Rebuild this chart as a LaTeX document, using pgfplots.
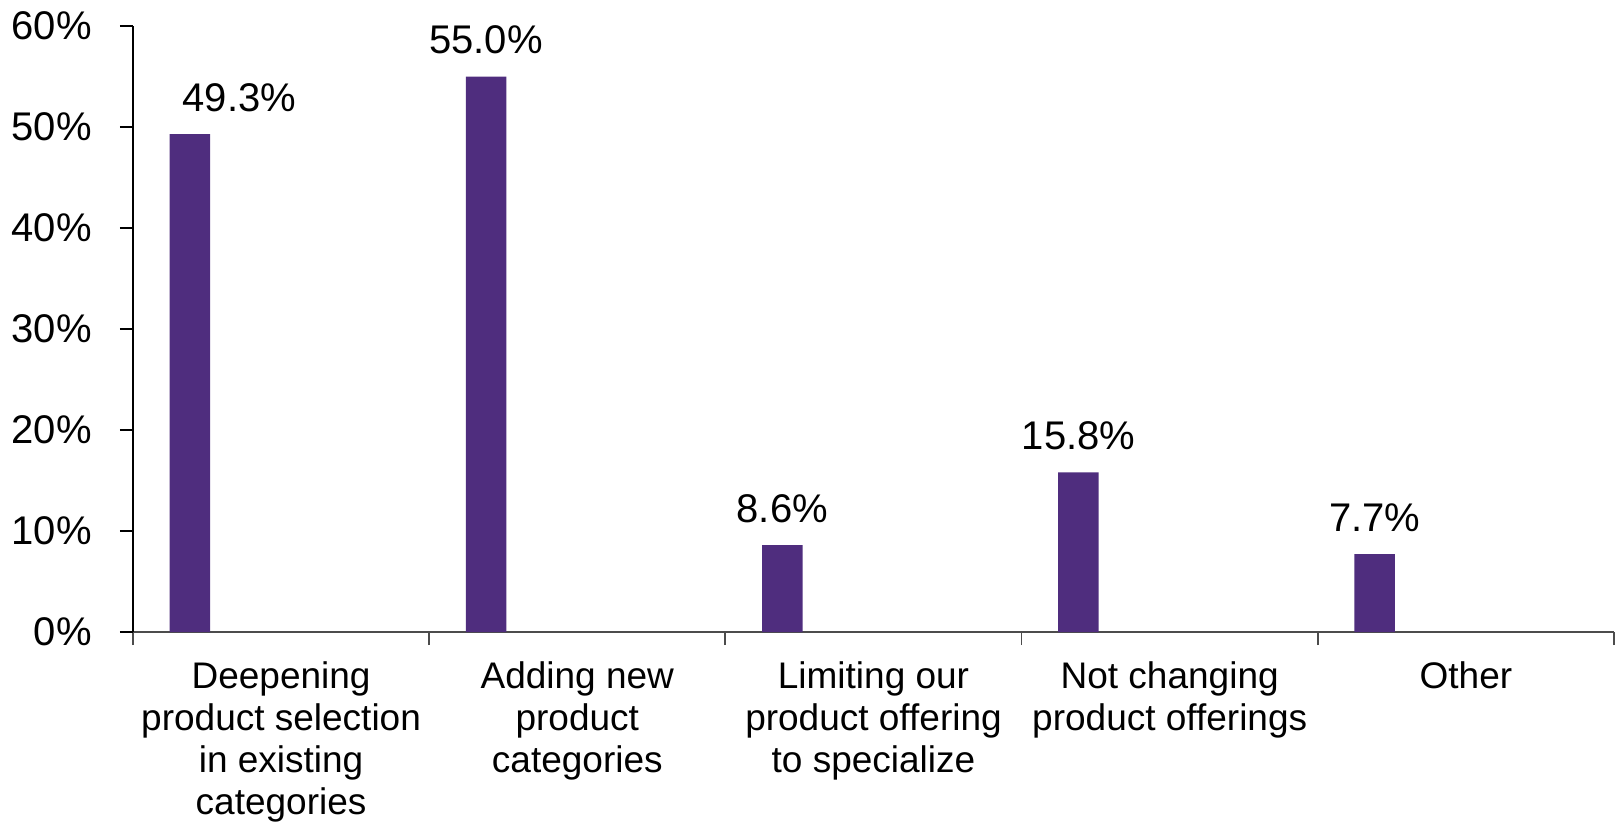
\documentclass[border=0pt]{standalone}
\usepackage{pgfplots}
\pgfplotsset{compat=1.18}
\usepackage{pgfplotstable}
\usepackage{fontspec}
\setmainfont{Liberation Sans}
\definecolor{barpurple}{RGB}{79,45,126}

% x = bar position inside its category slot, dx = extra label shift (pt)
\pgfplotstableread{
x     y    dx
0.192 49.3 24.75
1.192 55.0 0
2.192 8.6  0
3.192 15.8 0
4.192 7.7  0
}\shares

\begin{document}
\begin{tikzpicture}
\path[use as bounding box] (-66.5pt,-96.5pt) rectangle (742.5pt,316pt);
\begin{axis}[
  scale only axis,
  width=740.5pt, height=303pt,
  xmin=0, xmax=5, ymin=0, ymax=60,
  axis lines*=left,
  axis line style={line width=0.9pt},
  x axis line style={black!70},
  /pgf/number format/assume math mode=true,
  tick align=outside,
  major tick length=6.5pt,
  every tick/.style={line width=0.9pt},
  xtick={0,1,...,5},
  xticklabels={},
  x tick style={black!70},
  extra x ticks={0.5,1.5,2.5,3.5,4.5},
  extra x tick labels={Deepening\\product selection\\in existing\\categories,
    Adding new\\product\\categories,
    Limiting our\\product offering\\to specialize,
    Not changing\\product offerings,
    Other},
  extra x tick style={major tick length=0pt,
    xticklabel style={font=\fontsize{18.5}{21}\selectfont, align=center,
      anchor=north, inner sep=0pt, yshift=-14.5pt}},
  ytick={0,10,...,60},
  yticklabel={\pgfmathprintnumber{\tick}\%},
  yticklabel style={font=\fontsize{20}{24}\selectfont, anchor=east, inner sep=0pt, xshift=-14pt},
  y tick style={black},
  ybar, bar width=20.25pt, bar shift=0pt,
  nodes near coords={\pgfmathprintnumber[fixed,fixed zerofill,precision=1]{\pgfplotspointmeta}\%},
  visualization depends on={\thisrow{dx} \as \dx},
  every node near coord/.append style={font=\fontsize{20}{24}\selectfont,
    anchor=base, inner sep=0pt, yshift=11.5pt, xshift=\dx},
]
\addplot[fill=barpurple, draw=none] table[x=x, y=y] {\shares};
\end{axis}
\end{tikzpicture}
\end{document}
